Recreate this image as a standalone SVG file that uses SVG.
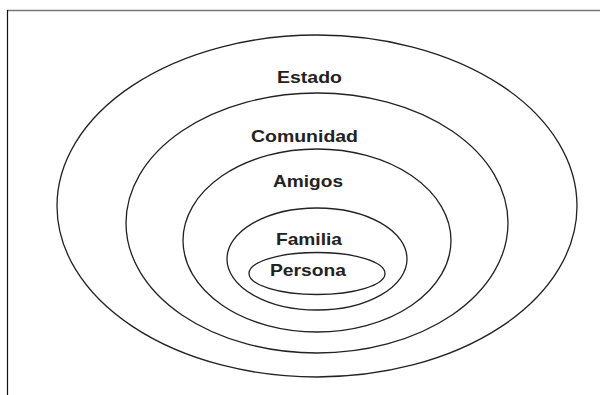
<svg xmlns="http://www.w3.org/2000/svg" width="600" height="395" viewBox="0 0 600 395">
<style>
.ring{fill:none;stroke:#222;stroke-width:1.3}
.lbl{font-family:"Liberation Sans",Arial,sans-serif;font-weight:bold;font-size:17px;fill:#222;text-anchor:middle}
</style>
<rect width="600" height="395" fill="#fff"/>
<line x1="7" y1="10.5" x2="600" y2="10.5" stroke="#777" stroke-width="1.6"/>
<line x1="7.5" y1="10" x2="7.5" y2="395" stroke="#111" stroke-width="1.2"/>
<g id="estado">
<ellipse class="ring" cx="317" cy="206" rx="260" ry="171"/>
<text class="lbl" x="309.5" y="83" textLength="65" lengthAdjust="spacingAndGlyphs">Estado</text>
</g>
<g id="comunidad">
<ellipse class="ring" cx="317" cy="223" rx="191" ry="130"/>
<text class="lbl" x="304.5" y="141.5" textLength="107" lengthAdjust="spacingAndGlyphs">Comunidad</text>
</g>
<g id="amigos">
<ellipse class="ring" cx="317" cy="240.5" rx="134" ry="91.5"/>
<text class="lbl" x="308" y="186.5" textLength="70" lengthAdjust="spacingAndGlyphs">Amigos</text>
</g>
<g id="familia">
<ellipse class="ring" cx="317" cy="259" rx="90" ry="51"/>
<text class="lbl" x="309" y="245" textLength="66" lengthAdjust="spacingAndGlyphs">Familia</text>
</g>
<g id="persona">
<ellipse class="ring" cx="317" cy="273.5" rx="68" ry="21"/>
<text class="lbl" x="308" y="276" textLength="76" lengthAdjust="spacingAndGlyphs">Persona</text>
</g>
<g id="connectors"/>
</svg>
